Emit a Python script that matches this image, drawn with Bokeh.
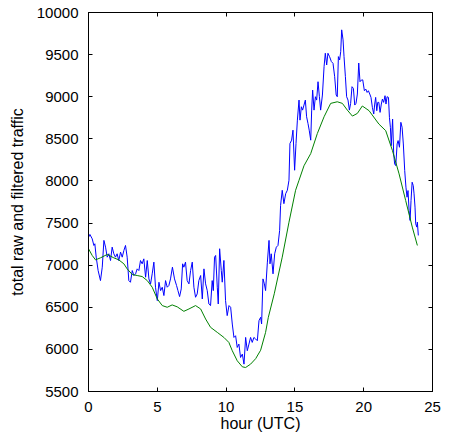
from bokeh.plotting import figure
from bokeh.models import LinearAxis, SingleIntervalTicker, Range1d
from bokeh.embed import file_html
from bokeh.resources import INLINE

# raw traffic (blue)
raw_hours = [0.00, 0.10, 0.27, 0.39, 0.46, 0.56, 0.70, 0.87, 1.00, 1.12, 1.24, 1.36, 1.48, 1.60, 1.72, 1.84,
             1.96, 2.08, 2.20, 2.33, 2.45, 2.57, 2.69, 2.81, 2.93, 3.05, 3.18, 3.30, 3.42, 3.54, 3.66, 3.78,
             3.90, 4.02, 4.15, 4.27, 4.39, 4.51, 4.63, 4.75, 4.87, 5.00, 5.12, 5.24, 5.36, 5.48, 5.60, 5.72,
             5.84, 5.96, 6.10, 6.25, 6.40, 6.50, 6.62, 6.74, 6.84, 6.93, 7.05, 7.17, 7.30, 7.42, 7.54, 7.66,
             7.78, 7.90, 8.02, 8.15, 8.27, 8.39, 8.51, 8.63, 8.75, 8.87, 8.99, 9.07, 9.16, 9.24, 9.36, 9.43,
             9.53, 9.65, 9.72, 9.84, 9.96, 10.08, 10.21, 10.33, 10.45, 10.57, 10.69, 10.81, 10.93, 11.05, 11.18, 11.30,
             11.42, 11.54, 11.66, 11.78, 11.90, 12.02, 12.15, 12.27, 12.39, 12.51, 12.58, 12.68, 12.78, 12.87, 13.00, 13.12,
             13.19, 13.28, 13.41, 13.53, 13.65, 13.77, 13.89, 13.96, 14.08, 14.20, 14.33, 14.45, 14.57, 14.64, 14.76, 14.86,
             14.98, 15.08, 15.18, 15.30, 15.37, 15.47, 15.56, 15.66, 15.76, 15.85, 15.95, 16.04, 16.15, 16.22, 16.29, 16.39,
             16.49, 16.58, 16.68, 16.78, 16.87, 17.00, 17.12, 17.21, 17.31, 17.40, 17.52, 17.65, 17.77, 17.89, 18.00, 18.08,
             18.16, 18.25, 18.33, 18.40, 18.50, 18.57, 18.67, 18.76, 18.86, 18.96, 19.05, 19.15, 19.25, 19.35, 19.44, 19.54,
             19.64, 19.73, 19.83, 19.93, 20.05, 20.15, 20.25, 20.34, 20.44, 20.53, 20.63, 20.73, 20.80, 20.87, 20.95, 21.02,
             21.10, 21.19, 21.28, 21.36, 21.45, 21.55, 21.62, 21.70, 21.80, 21.87, 21.94, 22.00, 22.10, 22.18, 22.25, 22.33,
             22.43, 22.50, 22.60, 22.70, 22.79, 22.88, 22.98, 23.07, 23.15, 23.22, 23.30, 23.37, 23.44, 23.52, 23.60, 23.66,
             23.73, 23.78, 23.86, 23.90, 23.97]
raw_traffic = [7330, 7365, 7313, 7234, 7254, 7095, 6936, 6817, 6976, 7294, 7214, 7095, 7135, 7055, 7214, 7135,
               7095, 7135, 7055, 7155, 7095, 7174, 7234, 7095, 6817, 6797, 6936, 6877, 6897, 6956, 6936, 7055,
               7016, 7075, 6857, 7055, 6837, 6777, 6897, 7036, 6738, 6579, 6797, 6698, 6738, 6639, 6817, 6738,
               6758, 6837, 6976, 6837, 6758, 6698, 6627, 6718, 7016, 6976, 7036, 6817, 6778, 6936, 7036, 6738,
               6619, 6659, 6817, 6877, 6599, 6956, 6778, 6698, 6539, 6520, 6817, 6698, 7095, 7115, 6738, 6539,
               7195, 6936, 6798, 7056, 6579, 6401, 6520, 6500, 6301, 6142, 6162, 6023, 6063, 5904, 5944, 5825,
               6142, 5984, 6063, 6142, 6083, 6142, 6123, 6103, 6341, 6381, 6302, 6837, 6778, 6698, 7036, 7294,
               7016, 7135, 6897, 7135, 7214, 7234, 7413, 7710, 7889, 7730, 7849, 7889, 8008, 8444, 8484, 8603,
               8127, 8444, 8722, 8960, 8722, 8881, 8841, 8901, 8960, 8762, 8683, 8603, 8484, 8841, 9079, 8841,
               9000, 8960, 9178, 9000, 8841, 9020, 9357, 9516, 9377, 9516, 9476, 9417, 9397, 9238, 9020, 9000,
               9476, 9436, 9536, 9794, 9675, 9476, 9238, 9000, 8960, 8841, 8921, 9119, 9099, 8901, 8921, 9032,
               9400, 9178, 9198, 9200, 9071, 9091, 9051, 9071, 9032, 8992, 8874, 8795, 8913, 8992, 8834, 8933,
               8933, 8814, 8913, 8972, 8933, 9012, 8913, 9000, 8992, 8755, 8637, 8419, 8735, 8321, 8202, 8182,
               8439, 8479, 8400, 8696, 8637, 8439, 8123, 7926, 7807, 7886, 7649, 7531, 7768, 7985, 7945, 7847,
               7689, 7491, 7452, 7511, 7353]

# filtered traffic (green)
filt_hours = [0.00, 0.27, 0.51, 0.87, 1.36, 1.84, 2.20, 2.57, 2.81, 3.18, 3.54, 3.90, 4.27, 4.63, 5.00, 5.36,
              5.72, 6.08, 6.45, 6.93, 7.30, 7.78, 8.15, 8.51, 8.87, 9.36, 9.84, 10.20, 10.45, 10.81, 11.18, 11.42,
              11.78, 12.15, 12.51, 12.87, 13.07, 13.50, 14.08, 14.57, 15.05, 15.30, 15.66, 16.15, 16.63, 17.12, 17.60, 18.08,
              18.45, 18.81, 19.18, 19.54, 19.90, 20.39, 21.10, 21.60, 22.09, 22.57, 23.05, 23.53, 23.90]
filt_traffic = [7195, 7115, 7063, 7087, 7127, 7087, 7063, 7016, 6956, 6889, 6877, 6865, 6817, 6738, 6599, 6520,
                6500, 6528, 6505, 6452, 6480, 6520, 6480, 6361, 6262, 6202, 6142, 6083, 5984, 5865, 5793, 5785,
                5825, 5890, 5990, 6202, 6381, 6660, 7095, 7510, 7889, 8008, 8180, 8325, 8563, 8762, 8921, 8940,
                8921, 8841, 8770, 8802, 8890, 8834, 8676, 8597, 8360, 8084, 7768, 7452, 7234]

x_label = "hour (UTC)"
y_label = "total raw and filtered traffic"

FONT = "Liberation Sans"

p = figure(width=454, height=434, output_backend="svg", toolbar_location=None,
           x_range=Range1d(0, 25), y_range=Range1d(5500, 10000),
           min_border_left=88, min_border_right=22, min_border_top=12, min_border_bottom=43)
p.background_fill_color = "white"
p.border_fill_color = "white"
p.xgrid.grid_line_color = None
p.ygrid.grid_line_color = None
p.outline_line_color = "black"
p.outline_line_width = 1
p.outline_line_alpha = 1.0

p.line(raw_hours, raw_traffic, line_color="#0000ff", line_width=1)
p.line(filt_hours, filt_traffic, line_color="#008000", line_width=1)

def style(ax, show_labels=True):
    ax.major_tick_in = 4
    ax.major_tick_out = 0
    ax.minor_tick_line_color = None
    ax.axis_line_color = "black"
    ax.major_tick_line_color = "black"
    ax.major_label_text_font = FONT
    ax.major_label_text_font_size = "15px"
    ax.major_label_text_color = "black" if show_labels else None
    ax.axis_label_text_font = FONT
    ax.axis_label_text_font_style = "normal"
    ax.axis_label_text_color = "black"
    ax.axis_label_text_font_size = "16px"

p.xaxis.ticker = SingleIntervalTicker(interval=5)
p.yaxis.ticker = SingleIntervalTicker(interval=500)
style(p.xaxis[0])
style(p.yaxis[0])
p.xaxis.axis_label = x_label
p.yaxis.axis_label = y_label
p.xaxis.major_label_standoff = 6
p.xaxis.axis_label_standoff = 0
p.yaxis.major_label_standoff = 6
p.yaxis.axis_label_standoff = 8

top = LinearAxis(ticker=SingleIntervalTicker(interval=5))
style(top, show_labels=False)
top.major_label_standoff = 0
p.add_layout(top, "above")
right = LinearAxis(ticker=SingleIntervalTicker(interval=500))
style(right, show_labels=False)
right.major_label_standoff = 0
p.add_layout(right, "right")

open("out.html", "w").write(file_html(p, INLINE))
